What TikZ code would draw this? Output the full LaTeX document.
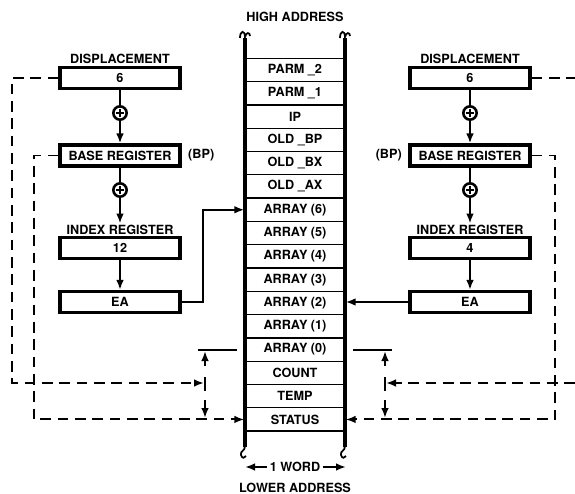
\documentclass[tikz,border=0pt]{standalone}
\usepackage{fontspec}
\setsansfont{TeX Gyre Heros}
\usetikzlibrary{arrows.meta,positioning}

\tikzset{
  txt/.style={font=\sffamily\bfseries\fontsize{10.8}{13}\selectfont},
  cell/.style={txt, rectangle, draw, line width=1.1pt, minimum width=3cm, minimum height=0.699cm, inner sep=0pt},
  regbox/.style={txt, rectangle, draw, line width=3pt, minimum width=3.6cm, minimum height=0.62cm, inner sep=0pt},
  adder/.style={circle, draw, line width=2.2pt, minimum size=0.4cm, inner sep=0pt,
    path picture={
      \draw[line width=1.7pt] ([xshift=-1.2mm]path picture bounding box.center) -- ([xshift=1.2mm]path picture bounding box.center);
      \draw[line width=1.7pt] ([yshift=-1.2mm]path picture bounding box.center) -- ([yshift=1.2mm]path picture bounding box.center);
    }},
  conn/.style={line width=1.7pt},
  arr/.style={conn, -{Latex[length=3mm,width=2.3mm]}},
  dashline/.style={line width=1.7pt, dash pattern=on 3.2mm off 2mm},
  dasharr/.style={dashline, -{Latex[length=3mm,width=2.3mm]}},
  rail/.style={line width=3.4pt},
}

\begin{document}
\begin{tikzpicture}[x=0.03cm, y=-0.03cm]
  \useasboundingbox (0,0) rectangle (575,494);

  % the stack, one word per cell
  \foreach \nm/\tx [count=\i from 0] in {parm2/{PARM \_2}, parm1/{PARM \_1}, ip/IP,
      oldbp/{OLD \_BP}, oldbx/{OLD \_BX}, oldax/{OLD \_AX},
      arr6/{ARRAY (6)}, arr5/{ARRAY (5)}, arr4/{ARRAY (4)}, arr3/{ARRAY (3)},
      arr2/{ARRAY (2)}, arr1/{ARRAY (1)}, arr0/{ARRAY (0)},
      count/COUNT, temp/TEMP, status/STATUS}
    \node[cell] (\nm) at (295, {58.3+23.3*\i+11.65}) {\tx};

  \draw[rail] (245,38) -- (245,447);
  \draw[rail] (345,38) -- (345,447);
  \draw[line width=1.5pt] (240,38) .. controls (240,30) and (245,30) .. (245,37) .. controls (246,32) and (250,32) .. (250,36);
  \draw[line width=1.5pt] (340,38) .. controls (340,30) and (345,30) .. (345,37) .. controls (346,32) and (350,32) .. (350,36);
  \draw[line width=1.5pt] (245,446) .. controls (245,452) and (240,450) .. (241,455) .. controls (242,459) and (245,458) .. (246,456);
  \draw[line width=1.5pt] (345,446) .. controls (345,452) and (340,450) .. (341,455) .. controls (342,459) and (345,458) .. (346,456);

  \node[txt] (high) at (295,17) {HIGH ADDRESS};
  \node[txt] (low) at (295,488) {LOWER ADDRESS};
  \node[txt, inner sep=2pt] (word) at (295,467) {1 WORD};
  \coordinate (wordL) at (245,467);
  \coordinate (wordR) at (346,467);
  \draw[arr] (word) -- (wordL);
  \draw[arr] (word) -- (wordR);

  % left side
  \node[regbox] (dispL) at (120,78) {6};
  \node[txt, above=1pt of dispL, inner sep=1pt] (displabL) {DISPLACEMENT};
  \node[adder] (addL1) at (120,113) {};
  \node[regbox] (baseL) at (120,155.5) {BASE REGISTER};
  \node[txt, right=2pt of baseL] (bpL) {(BP)};
  \node[adder] (addL2) at (120,190) {};
  \node[regbox] (ixL) at (120,248) {12};
  \node[txt, above=0pt of ixL, inner sep=1pt] (ixlabL) {INDEX REGISTER};
  \node[regbox] (eaL) at (120,302) {EA};

  \draw[conn] (dispL) -- (addL1);
  \draw[arr] (addL1) -- (baseL);
  \draw[conn] (baseL) -- (addL2);
  \draw[arr] (addL2) -- (ixlabL);
  \draw[arr] (ixL) -- (eaL);
  \draw[arr] (eaL.east) -- ++(21,0) |- (arr6.west);

  \draw[conn] (198,349.5) -- (237,349.5);
  \draw[conn] (205,377) -- (205,391);
  \draw[arr] (205,366) -- (205,351);
  \draw[arr] (205,400) -- (205,418);
  \coordinate (ltick) at (204,383);
  \draw[dasharr] (dispL.west) -- (12,78) |- (ltick);
  \draw[dasharr] (baseL.west) -- (34,155.5) |- (status.west);

  % right side
  \node[regbox] (dispR) at (470,78) {6};
  \node[txt, above=1pt of dispR, inner sep=1pt] (displabR) {DISPLACEMENT};
  \node[adder] (addR1) at (470,113) {};
  \node[regbox] (baseR) at (470,155.5) {BASE REGISTER};
  \node[txt, left=2pt of baseR] (bpR) {(BP)};
  \node[adder] (addR2) at (470,190) {};
  \node[regbox] (ixR) at (470,248) {4};
  \node[txt, above=0pt of ixR, inner sep=1pt] (ixlabR) {INDEX REGISTER};
  \node[regbox] (eaR) at (470,302) {EA};

  \draw[conn] (dispR) -- (addR1);
  \draw[arr] (addR1) -- (baseR);
  \draw[conn] (baseR) -- (addR2);
  \draw[arr] (addR2) -- (ixlabR);
  \draw[arr] (ixR) -- (eaR);
  \draw[arr] (eaR.west) -- (eaR.west -| arr2.east);

  \draw[conn] (353,349.5) -- (392,349.5);
  \draw[conn] (385,377) -- (385,391);
  \draw[arr] (385,366) -- (385,351);
  \draw[arr] (385,400) -- (385,418);
  \coordinate (rtick) at (386,383);
  \coordinate (redge) at (575,383);
  \draw[dashline] (dispR.east) -- (575,78);
  \draw[dasharr] (redge) -- (rtick);
  \draw[dasharr] (baseR.east) -- (555,155.5) |- (status.east);
\end{tikzpicture}
\end{document}
